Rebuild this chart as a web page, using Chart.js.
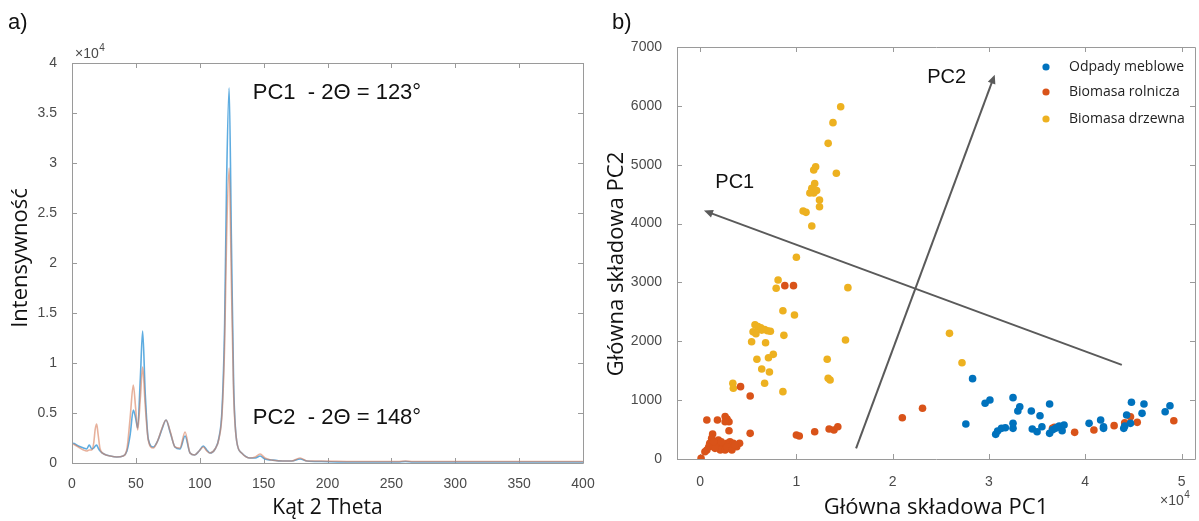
<!DOCTYPE html>
<html><head><meta charset="utf-8">
<script src="https://cdn.jsdelivr.net/npm/chart.js@4.4.1/dist/chart.umd.min.js"></script>
<style>
html,body{margin:0;padding:0;background:#fff;}
#wrap{position:relative;width:1199px;height:521px;overflow:hidden;background:#fff;}
#c1{position:absolute;left:0;top:0;}
#c2{position:absolute;left:600px;top:0;}
</style></head><body>
<div id="wrap"><canvas id="c1" width="600" height="521"></canvas><canvas id="c2" width="599" height="521"></canvas></div>
<script>
// ---------- Panel a) data: diffraction curves (intensity in units of 10^4) ----------
const theta = [1,5,9,11.5,13.5,15.5,17,18.2,19.3,20.5,22,25,30,35,40,43,45.5,48,49.8,51.4,53.5,55.3,57.3,59.7,63.6,67,70.5,73.6,77,80.6,84.5,88.5,92.4,96,99.5,102.8,105.5,108,112,115,117.5,119.5,121,123,124.8,126.5,128.9,132.8,139.3,143.5,147.2,151,156,165,172,178.5,184,195,220,255,261,267,290,330,370,400];
const intensityBlue = [0.20,0.17,0.15,0.14,0.18,0.14,0.15,0.17,0.18,0.15,0.12,0.09,0.07,0.06,0.07,0.12,0.28,0.53,0.45,0.35,0.85,1.32,0.70,0.24,0.16,0.22,0.34,0.43,0.30,0.16,0.14,0.27,0.10,0.08,0.12,0.17,0.13,0.10,0.14,0.25,0.55,1.40,2.80,3.75,2.20,0.80,0.22,0.10,0.05,0.05,0.07,0.04,0.03,0.02,0.02,0.04,0.02,0.015,0.01,0.01,0.015,0.01,0.01,0.01,0.01,0.01];
const intensityOrange = [0.19,0.16,0.13,0.12,0.13,0.13,0.20,0.34,0.39,0.28,0.14,0.09,0.07,0.06,0.07,0.14,0.45,0.78,0.55,0.33,0.65,0.96,0.58,0.23,0.15,0.22,0.35,0.43,0.31,0.16,0.15,0.31,0.10,0.08,0.12,0.16,0.12,0.10,0.14,0.24,0.50,1.20,2.25,2.95,1.80,0.70,0.22,0.10,0.05,0.06,0.09,0.05,0.03,0.02,0.02,0.05,0.02,0.02,0.015,0.015,0.02,0.015,0.015,0.015,0.015,0.015];
const xTicksA = [0,50,100,150,200,250,300,350,400];
const yTicksA = [0,0.5,1,1.5,2,2.5,3,3.5,4];

// ---------- Panel b) data: PCA scores (PC1 in units of 10^4) ----------
const odpadyPC1 = [2.83,2.76,2.96,3.01,3.25,3.32,3.30,3.44,3.53,3.63,3.07,3.09,3.13,3.17,3.25,3.25,3.45,3.50,3.55,3.63,3.69,3.73,3.76,3.78,4.04,4.16,4.19,4.19,4.40,4.41,4.43,4.48,4.47,4.59,4.61,4.83,4.88,3.66,3.71];
const odpadyPC2 = [1365,595,946,1002,1042,889,815,815,736,934,419,476,521,532,521,606,510,464,549,436,521,561,481,578,606,662,549,521,521,561,748,963,606,776,934,804,906,498,540];
const rolniczaPC1 = [0.88,0.97,0.42,0.52,0.52,1.00,1.03,1.19,1.34,1.39,1.43,2.10,2.31,0.01,0.07,0.18,0.26,0.28,0.30,0.26,0.30,0.13,0.12,0.10,0.09,0.07,0.05,0.14,0.17,0.21,0.24,0.28,0.31,0.345,0.38,0.41,0.21,0.26,0.31,0.155,0.19,0.22,0.28,0.33,0.36,0.14,3.66,3.89,4.09,4.30,4.41,4.47,4.54,4.92,3.68];
const rolniczaPC2 = [2945,2945,1229,1070,436,408,391,464,510,493,549,702,861,12,663,663,720,680,633,633,481,425,351,266,209,153,124,209,266,209,238,266,294,266,209,266,153,153,181,181,323,294,209,153,238,294,521,453,493,567,617,719,623,651,540];
const drzewnaPC1 = [1.46,1.38,1.33,1.20,1.18,1.415,1.19,1.16,1.21,1.18,1.14,1.24,1.24,1.07,1.10,1.16,1.00,0.81,0.79,1.535,0.86,0.98,0.87,0.57,0.60,0.63,0.67,0.70,0.73,0.55,0.58,0.64,0.535,0.68,1.51,0.76,0.71,0.59,1.32,0.64,0.72,0.67,1.33,1.35,0.86,0.34,0.345,2.59,2.72];
const drzewnaPC2 = [5986,5715,5363,4966,4910,4854,4680,4600,4560,4520,4520,4400,4287,4213,4191,3959,3427,3041,2900,2911,2520,2447,2101,2280,2250,2230,2200,2180,2170,2160,2130,2190,1993,1976,2022,1778,1721,1694,1694,1529,1478,1286,1370,1342,1144,1286,1201,2135,1636];
const xTicksB = [0,1,2,3,4,5];
const yTicksB = [0,1000,2000,3000,4000,5000,6000,7000];
const seriesNames = ['Odpady meblowe','Biomasa rolnicza','Biomasa drzewna'];
// PCA loading arrows (data coordinates): [fromPC1, fromPC2, toPC1, toPC2]
const arrowPC1 = [4.38, 1600, 0.04, 4220];
const arrowPC2 = [1.62, 180, 3.06, 6530];

const TICK_FONT = {family:'"Liberation Sans", Arial, sans-serif', size:14};
const TITLE_FONT = {family:'"Open Sans", sans-serif', size:22};
const TITLE_CSS = '22px "Open Sans", sans-serif';
const TICK_COLOR = '#4a4a4a';

function framePlugin(xt, yt){
  return {
    id:'frame',
    beforeDatasetsDraw(chart){
      const {ctx, chartArea:a, scales:{x,y}} = chart;
      const L = 5;
      ctx.save();
      ctx.strokeStyle = '#9a9a9a';
      ctx.lineWidth = 1;
      ctx.beginPath();
      ctx.rect(Math.round(a.left)+0.5, Math.round(a.top)+0.5, Math.round(a.right-a.left), Math.round(a.bottom-a.top));
      xt.forEach(v=>{
        const p = Math.round(x.getPixelForValue(v))+0.5;
        ctx.moveTo(p, a.bottom); ctx.lineTo(p, a.bottom-L);
        ctx.moveTo(p, a.top); ctx.lineTo(p, a.top+L);
      });
      yt.forEach(v=>{
        const p = Math.round(y.getPixelForValue(v))+0.5;
        ctx.moveTo(a.left, p); ctx.lineTo(a.left+L, p);
        ctx.moveTo(a.right, p); ctx.lineTo(a.right-L, p);
      });
      ctx.stroke();
      ctx.restore();
    }
  };
}

function drawSci(ctx, x, y){
  ctx.save();
  ctx.fillStyle = TICK_COLOR;
  ctx.textBaseline = 'alphabetic';
  ctx.textAlign = 'left';
  ctx.font = '14px "Liberation Sans", Arial, sans-serif';
  ctx.fillText('\u00d710', x, y);
  const w = ctx.measureText('\u00d710').width;
  ctx.font = '10px "Liberation Sans", Arial, sans-serif';
  ctx.fillText('4', x + w + 0.5, y - 7);
  ctx.restore();
}

function drawVTitle(ctx, text, cx, cy){
  ctx.save();
  ctx.translate(cx, cy);
  ctx.rotate(-Math.PI/2);
  ctx.font = TITLE_CSS;
  ctx.fillStyle = '#111';
  ctx.textAlign = 'center';
  ctx.textBaseline = 'middle';
  ctx.fillText(text, 0, 0);
  ctx.restore();
}

const annotA = {
  id:'annotA',
  afterDatasetsDraw(chart){
    const {ctx, scales:{x,y}} = chart;
    ctx.save();
    ctx.fillStyle = '#111';
    ctx.textBaseline = 'middle';
    ctx.textAlign = 'left';
    ctx.font = '22px "Liberation Sans", Arial, sans-serif';
    ctx.fillText('PC1  - 2\u0398 = 123\u00b0', x.getPixelForValue(141.5), y.getPixelForValue(3.705));
    ctx.fillText('PC2  - 2\u0398 = 148\u00b0', x.getPixelForValue(141.5), y.getPixelForValue(0.45));
    ctx.fillText('a)', 8, 23);
    ctx.restore();
    drawVTitle(ctx, 'Intensywno\u015b\u0107', 21, 258);
    drawSci(ctx, chart.chartArea.left + 3, chart.chartArea.top - 5);
  }
};

function arrow(ctx, x0, y0, x1, y1){
  const ang = Math.atan2(y1-y0, x1-x0);
  const h = 9, w = 4;
  ctx.beginPath();
  ctx.moveTo(x0, y0);
  ctx.lineTo(x1 - Math.cos(ang)*h*0.8, y1 - Math.sin(ang)*h*0.8);
  ctx.stroke();
  ctx.beginPath();
  ctx.moveTo(x1, y1);
  ctx.lineTo(x1 - Math.cos(ang)*h + Math.sin(ang)*w, y1 - Math.sin(ang)*h - Math.cos(ang)*w);
  ctx.lineTo(x1 - Math.cos(ang)*h - Math.sin(ang)*w, y1 - Math.sin(ang)*h + Math.cos(ang)*w);
  ctx.closePath();
  ctx.fill();
}

const annotB = {
  id:'annotB',
  afterDatasetsDraw(chart){
    const {ctx, chartArea:a, scales:{x,y}} = chart;
    ctx.save();
    ctx.strokeStyle = '#5a5a5a';
    ctx.fillStyle = '#5a5a5a';
    ctx.lineWidth = 2;
    [arrowPC1, arrowPC2].forEach(r=>{
      arrow(ctx, x.getPixelForValue(r[0]), y.getPixelForValue(r[1]), x.getPixelForValue(r[2]), y.getPixelForValue(r[3]));
    });
    ctx.fillStyle = '#111';
    ctx.textBaseline = 'middle';
    ctx.textAlign = 'center';
    ctx.font = '20px "Liberation Sans", Arial, sans-serif';
    ctx.fillText('PC1', x.getPixelForValue(0.36), y.getPixelForValue(4700));
    ctx.fillText('PC2', x.getPixelForValue(2.56), y.getPixelForValue(6490));
    // legend
    const colors = ['#0072BD','#D95319','#EDB120'];
    const ys = [67, 92, 119];
    ctx.textAlign = 'left';
    ctx.font = '14px "Open Sans", sans-serif';
    seriesNames.forEach((n,i)=>{
      ctx.fillStyle = colors[i];
      ctx.beginPath(); ctx.arc(a.right - 149, ys[i], 3.6, 0, Math.PI*2); ctx.fill();
      ctx.fillStyle = '#222';
      ctx.fillText(n, a.right - 126, ys[i]);
    });
    ctx.font = '22px "Liberation Sans", Arial, sans-serif';
    ctx.fillStyle = '#111';
    ctx.fillText('b)', 12, 23);
    ctx.restore();
    drawVTitle(ctx, 'G\u0142\u00f3wna sk\u0142adowa PC2', 17, 264);
    drawSci(ctx, a.right - 35, a.bottom + 46);
  }
};

new Chart(document.getElementById('c1'), {
  type:'line',
  data:{datasets:[
    {label:'A', order:2, data: theta.map((t,i)=>({x:t, y:intensityBlue[i]})), borderColor:'rgba(85,168,222,0.95)', borderWidth:1.6, pointRadius:0, cubicInterpolationMode:'monotone', fill:false},
    {label:'B', order:1, data: theta.map((t,i)=>({x:t, y:intensityOrange[i]})), borderColor:'rgba(215,125,90,0.6)', borderWidth:1.6, pointRadius:0, cubicInterpolationMode:'monotone', fill:false}
  ]},
  options:{
    responsive:false, animation:false, devicePixelRatio:1,
    layout:{padding:{left:0, top:63, right:17, bottom:0}},
    plugins:{legend:{display:false}, tooltip:{enabled:false}},
    scales:{
      x:{type:'linear', min:0, max:400,
        afterBuildTicks:s=>{s.ticks = xTicksA.map(v=>({value:v}));},
        afterFit:s=>{s.height = 58;},
        grid:{display:false}, border:{display:false},
        ticks:{padding:5, color:TICK_COLOR, font:TICK_FONT, maxRotation:0, autoSkip:false},
        title:{display:true, text:'K\u0105t 2 Theta', color:'#111', font:{family:'"Open Sans", sans-serif', size:21}, padding:{top:0,bottom:0}}
      },
      y:{type:'linear', min:0, max:4,
        afterBuildTicks:s=>{s.ticks = yTicksA.map(v=>({value:v}));},
        afterFit:s=>{s.width = 72;},
        grid:{display:false}, border:{display:false},
        ticks:{padding:7, color:TICK_COLOR, font:TICK_FONT, autoSkip:false, callback:v=>String(v)},
        title:{display:false}
      }
    }
  },
  plugins:[framePlugin(xTicksA, yTicksA), annotA]
});

function pts(a,b){ return a.map((v,i)=>({x:v, y:b[i]})); }

new Chart(document.getElementById('c2'), {
  type:'scatter',
  data:{datasets:[
    {label:seriesNames[0], data:pts(odpadyPC1, odpadyPC2), backgroundColor:'#0072BD', borderWidth:0, pointRadius:3.8},
    {label:seriesNames[1], data:pts(rolniczaPC1, rolniczaPC2), backgroundColor:'#D95319', borderWidth:0, pointRadius:3.8},
    {label:seriesNames[2], data:pts(drzewnaPC1, drzewnaPC2), backgroundColor:'#EDB120', borderWidth:0, pointRadius:3.8}
  ]},
  options:{
    responsive:false, animation:false, devicePixelRatio:1,
    layout:{padding:{left:0, top:47, right:2, bottom:0}},
    plugins:{legend:{display:false}, tooltip:{enabled:false}},
    scales:{
      x:{type:'linear', min:-0.24, max:5.14,
        afterBuildTicks:s=>{s.ticks = xTicksB.map(v=>({value:v}));},
        afterFit:s=>{s.height = 62;},
        grid:{display:false}, border:{display:false},
        ticks:{padding:7, color:TICK_COLOR, font:TICK_FONT, maxRotation:0, autoSkip:false, callback:v=>String(v)},
        title:{display:true, text:'G\u0142\u00f3wna sk\u0142adowa PC1', color:'#111', font:TITLE_FONT, padding:{top:0,bottom:0}}
      },
      y:{type:'linear', min:0, max:7000,
        afterBuildTicks:s=>{s.ticks = yTicksB.map(v=>({value:v}));},
        afterFit:s=>{s.width = 77;},
        grid:{display:false}, border:{display:false},
        ticks:{padding:7, color:TICK_COLOR, font:TICK_FONT, autoSkip:false, callback:v=>String(v)},
        title:{display:false}
      }
    }
  },
  plugins:[framePlugin(xTicksB, yTicksB), annotB]
});
</script>
</body></html>
